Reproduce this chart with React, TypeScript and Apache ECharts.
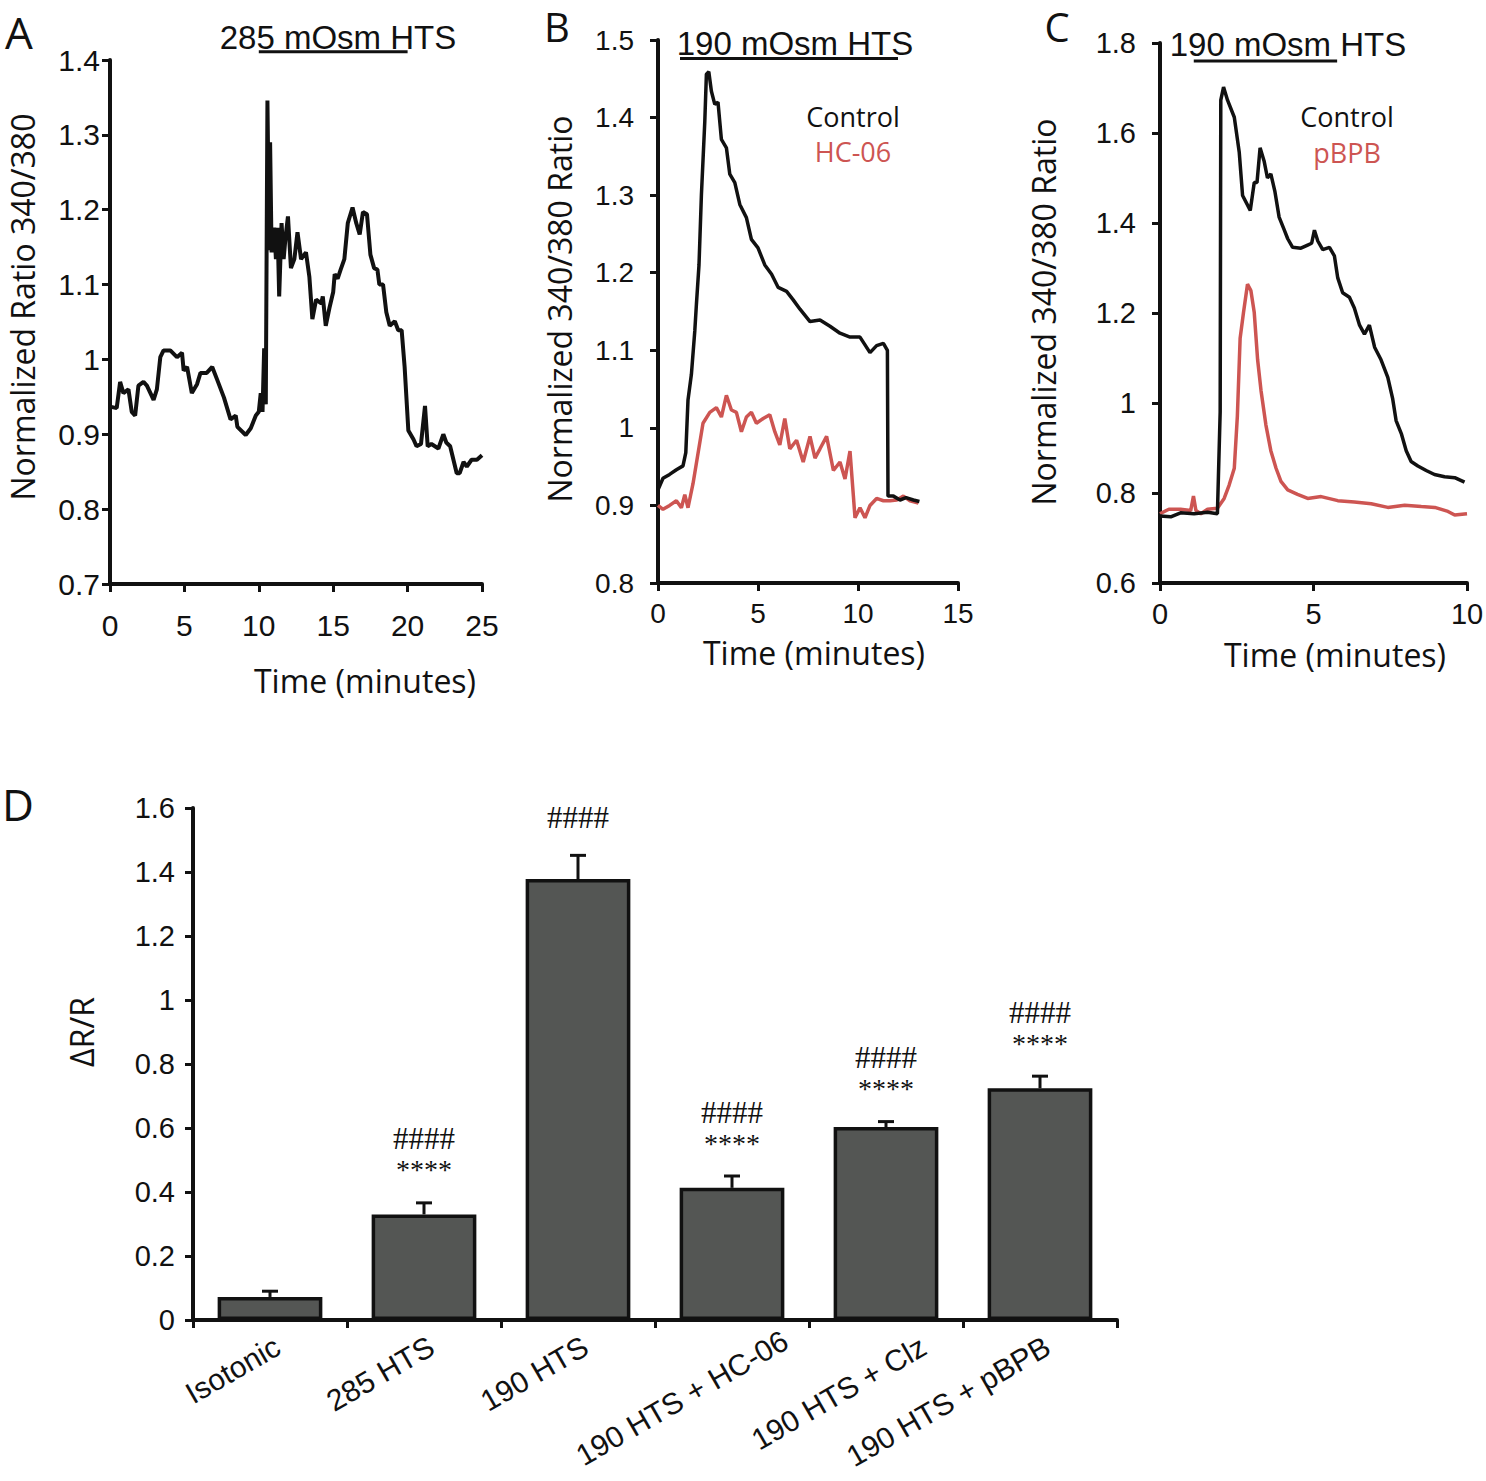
import React, { useEffect, useRef } from "react";
import * as echarts from "echarts";

// ---------- Panel A ----------
const timeA = [0, 0.45, 0.68, 0.9, 1.24, 1.46, 1.69, 1.91, 2.25, 2.48, 2.93, 3.15, 3.38, 3.6, 4.05, 4.5, 4.84, 4.95, 5.18, 5.5, 5.85, 6.08, 6.5, 6.87, 7.2, 7.66, 8.1, 8.45, 8.56, 9.12, 9.46, 9.8, 10.0, 10.13, 10.25, 10.36, 10.47, 10.58, 10.7, 10.76, 10.86, 11.04, 11.15, 11.26, 11.37, 11.53, 11.67, 11.8, 11.96, 12.16, 12.39, 12.6, 12.84, 13.17, 13.4, 13.6, 13.85, 14.2, 14.3, 14.5, 14.75, 15.0, 15.1, 15.3, 15.5, 15.75, 15.98, 16.3, 16.55, 16.78, 17.0, 17.27, 17.5, 17.75, 17.97, 18.1, 18.35, 18.57, 18.8, 19.14, 19.37, 19.6, 19.8, 20.05, 20.4, 20.6, 20.9, 21.17, 21.35, 21.6, 22.07, 22.4, 22.6, 22.86, 23.3, 23.5, 23.76, 23.98, 24.3, 24.66, 25.0];
const ratioA = [0.937, 0.935, 0.97, 0.955, 0.96, 0.93, 0.925, 0.965, 0.97, 0.965, 0.946, 0.96, 1.003, 1.012, 1.012, 1.003, 1.009, 0.985, 0.99, 0.955, 0.967, 0.982, 0.982, 0.99, 0.973, 0.949, 0.92, 0.925, 0.91, 0.899, 0.908, 0.925, 0.93, 0.955, 0.93, 1.015, 0.94, 1.346, 1.146, 1.29, 1.143, 1.176, 1.134, 1.176, 1.084, 1.182, 1.134, 1.164, 1.191, 1.122, 1.134, 1.17, 1.134, 1.143, 1.11, 1.054, 1.08, 1.075, 1.084, 1.045, 1.069, 1.09, 1.114, 1.108, 1.12, 1.134, 1.182, 1.203, 1.182, 1.167, 1.197, 1.194, 1.14, 1.122, 1.12, 1.1, 1.1, 1.063, 1.045, 1.051, 1.039, 1.039, 0.99, 0.905, 0.893, 0.884, 0.887, 0.938, 0.884, 0.887, 0.881, 0.9, 0.889, 0.884, 0.848, 0.848, 0.863, 0.857, 0.866, 0.866, 0.872];
const htsA = [10, 20];

// ---------- Panel B ----------
const timeBControl = [0, 0.25, 0.58, 0.92, 1.25, 1.39, 1.5, 1.67, 1.84, 1.92, 2.05, 2.17, 2.34, 2.42, 2.54, 2.67, 2.84, 3.0, 3.17, 3.42, 3.59, 3.84, 4.09, 4.42, 4.67, 5.0, 5.34, 5.68, 6.01, 6.43, 6.76, 7.1, 7.6, 8.1, 8.6, 9.1, 9.6, 10.1, 10.6, 10.93, 11.27, 11.47, 11.5, 11.77, 12.1, 12.4, 12.77, 13.07];
const ratioBControl = [0.92, 0.935, 0.94, 0.946, 0.951, 0.968, 1.036, 1.069, 1.125, 1.159, 1.21, 1.3, 1.395, 1.456, 1.459, 1.434, 1.417, 1.42, 1.372, 1.361, 1.327, 1.316, 1.288, 1.271, 1.243, 1.232, 1.21, 1.198, 1.181, 1.176, 1.165, 1.153, 1.137, 1.139, 1.131, 1.122, 1.117, 1.117, 1.097, 1.106, 1.109, 1.1, 0.912, 0.912, 0.907, 0.91, 0.907, 0.905];
const timeBHC = [0, 0.25, 0.58, 0.92, 1.17, 1.34, 1.5, 1.75, 2.0, 2.25, 2.59, 2.92, 3.17, 3.42, 3.67, 3.92, 4.17, 4.42, 4.67, 4.92, 5.26, 5.59, 5.84, 6.09, 6.34, 6.59, 6.93, 7.26, 7.6, 7.85, 8.1, 8.43, 8.77, 9.1, 9.35, 9.6, 9.77, 9.85, 10.1, 10.35, 10.6, 10.93, 11.27, 11.6, 11.94, 12.27, 12.6, 13.02];
const ratioBHC = [0.9, 0.895, 0.9, 0.906, 0.897, 0.914, 0.897, 0.928, 0.967, 1.006, 1.02, 1.026, 1.014, 1.042, 1.023, 1.02, 0.995, 1.014, 1.02, 1.006, 1.012, 1.017, 0.995, 0.978, 1.012, 0.973, 0.984, 0.956, 0.989, 0.961, 0.973, 0.989, 0.945, 0.956, 0.934, 0.97, 0.912, 0.884, 0.897, 0.884, 0.9, 0.909, 0.906, 0.906, 0.907, 0.912, 0.906, 0.903];
const htsB = [1.1, 12];

// ---------- Panel C ----------
const timeCControl = [0, 0.35, 0.67, 1.11, 1.55, 1.87, 1.96, 1.98, 2.07, 2.2, 2.42, 2.58, 2.69, 2.94, 3.07, 3.16, 3.26, 3.39, 3.5, 3.61, 3.74, 3.88, 4.05, 4.16, 4.32, 4.59, 4.81, 4.94, 5.03, 5.14, 5.3, 5.52, 5.68, 5.79, 5.95, 6.17, 6.33, 6.5, 6.66, 6.82, 6.99, 7.2, 7.42, 7.58, 7.69, 7.86, 8.02, 8.18, 8.4, 8.67, 8.94, 9.27, 9.6, 9.92];
const ratioCControl = [0.749, 0.747, 0.756, 0.754, 0.757, 0.754, 0.98, 1.673, 1.702, 1.673, 1.635, 1.558, 1.461, 1.428, 1.49, 1.49, 1.567, 1.538, 1.5, 1.509, 1.471, 1.413, 1.384, 1.365, 1.346, 1.344, 1.351, 1.355, 1.384, 1.36, 1.341, 1.346, 1.327, 1.278, 1.245, 1.235, 1.211, 1.173, 1.153, 1.173, 1.124, 1.096, 1.057, 1.009, 0.961, 0.932, 0.894, 0.87, 0.86, 0.85, 0.841, 0.836, 0.834, 0.824];
const timeCpBPB = [0, 0.29, 0.67, 1.0, 1.09, 1.17, 1.33, 1.55, 1.87, 2.09, 2.25, 2.42, 2.52, 2.61, 2.72, 2.85, 2.96, 3.07, 3.18, 3.29, 3.45, 3.61, 3.78, 3.94, 4.16, 4.48, 4.81, 5.25, 5.79, 6.33, 6.88, 7.42, 7.97, 8.51, 8.95, 9.38, 9.6, 10.0];
const ratioCpBPB = [0.754, 0.764, 0.764, 0.761, 0.793, 0.761, 0.754, 0.764, 0.766, 0.788, 0.817, 0.855, 0.971, 1.144, 1.201, 1.264, 1.25, 1.201, 1.096, 1.028, 0.951, 0.894, 0.855, 0.826, 0.807, 0.797, 0.788, 0.792, 0.783, 0.78, 0.776, 0.768, 0.773, 0.77, 0.768, 0.759, 0.751, 0.754];
const htsC = [1.1, 5.77];

// ---------- Panel D ----------
const categoriesD = ["Isotonic", "285 HTS", "190 HTS", "190 HTS + HC-06", "190 HTS + Clz", "190 HTS + pBPB"];
const meansD = [0.072, 0.33, 1.378, 0.413, 0.603, 0.724];
const errTopD = [0.09, 0.366, 1.452, 0.45, 0.62, 0.762];
const hashD = ["", "####", "####", "####", "####", "####"];
const starD = ["", "****", "", "****", "****", "****"];

// layout only: nudges of the rotated category labels (px)
const LABEL_NUDGE_X = [0, 0, 0, 46, 30, 0];
const LABEL_NUDGE_Y = [0, 0, 0, -6, 0, 0];

const BLACK = "#111111";
const RED = "#cd5552";
const SANS = '"Liberation Sans", Arial, sans-serif';
const TITLE = '"Open Sans", "Noto Sans", sans-serif';
const SERIF = '"Liberation Serif", "Times New Roman", serif';

const zip = (t: number[], v: number[]) => t.map((x, i) => [x, v[i]]);

function valueAxis(gridIndex: number, min: number, max: number, interval: number, fontSize: number, margin: number) {
  return {
    type: "value",
    gridIndex,
    min,
    max,
    interval,
    axisLine: { show: true, onZero: false, lineStyle: { color: BLACK, width: 4 } },
    axisTick: { show: true, inside: false, length: 8, lineStyle: { color: BLACK, width: 3 } },
    axisLabel: { color: BLACK, fontSize, fontFamily: SANS, margin },
    splitLine: { show: false },
  };
}

function txt(x: number, y: number, text: string, size: number, opts: any = {}) {
  return {
    type: "text",
    x,
    y,
    rotation: opts.rotation || 0,
    silent: true,
    z: 10,
    style: {
      text,
      fontSize: size,
      fontFamily: opts.family || TITLE,
      fill: opts.color || BLACK,
      align: "center",
      verticalAlign: "middle",
    },
  };
}

export default function App() {
  const ref = useRef<HTMLDivElement>(null);

  useEffect(() => {
    if (!ref.current) return;
    const chart = echarts.init(ref.current, null, { renderer: "svg" });

    const option: any = {
      animation: false,
      backgroundColor: "#ffffff",
      grid: [
        { left: 110, top: 60, width: 372, height: 524, outerBoundsMode: "none", containLabel: false },
        { left: 658, top: 40, width: 300, height: 543, outerBoundsMode: "none", containLabel: false },
        { left: 1160, top: 43, width: 307, height: 540, outerBoundsMode: "none", containLabel: false },
        { left: 193, top: 808, width: 924, height: 512, outerBoundsMode: "none", containLabel: false },
      ],
      xAxis: [
        valueAxis(0, 0, 25, 5, 30, 26),
        valueAxis(1, 0, 15, 5, 28, 16),
        valueAxis(2, 0, 10, 5, 29, 16),
        {
          type: "category",
          gridIndex: 3,
          data: categoriesD,
          axisLine: { show: true, lineStyle: { color: BLACK, width: 4 } },
          axisTick: { show: true, alignWithLabel: false, inside: false, length: 8, lineStyle: { color: BLACK, width: 3 } },
          axisLabel: { show: false },
          splitLine: { show: false },
        },
      ],
      yAxis: [
        valueAxis(0, 0.7, 1.4, 0.1, 30, 10),
        valueAxis(1, 0.8, 1.5, 0.1, 28, 24),
        valueAxis(2, 0.6, 1.8, 0.2, 29, 24),
        valueAxis(3, 0, 1.6, 0.2, 29, 18),
      ],
      series: [
        {
          type: "line", xAxisIndex: 0, yAxisIndex: 0, data: zip(timeA, ratioA),
          showSymbol: false, lineStyle: { color: BLACK, width: 4 }, itemStyle: { color: BLACK },
        },
        {
          type: "line", xAxisIndex: 0, yAxisIndex: 0, data: htsA.map((t) => [t, 1.411]), clip: false,
          showSymbol: false, lineStyle: { color: BLACK, width: 3 },
        },
        {
          type: "line", xAxisIndex: 1, yAxisIndex: 1, data: zip(timeBHC, ratioBHC),
          showSymbol: false, lineStyle: { color: RED, width: 3.5 }, itemStyle: { color: RED },
        },
        {
          type: "line", xAxisIndex: 1, yAxisIndex: 1, data: zip(timeBControl, ratioBControl),
          showSymbol: false, lineStyle: { color: BLACK, width: 3.5 }, itemStyle: { color: BLACK },
        },
        {
          type: "line", xAxisIndex: 1, yAxisIndex: 1, data: htsB.map((t) => [t, 1.476]), clip: false,
          showSymbol: false, lineStyle: { color: BLACK, width: 3 },
        },
        {
          type: "line", xAxisIndex: 2, yAxisIndex: 2, data: zip(timeCpBPB, ratioCpBPB),
          showSymbol: false, lineStyle: { color: RED, width: 3.5 }, itemStyle: { color: RED },
        },
        {
          type: "line", xAxisIndex: 2, yAxisIndex: 2, data: zip(timeCControl, ratioCControl),
          showSymbol: false, lineStyle: { color: BLACK, width: 3.5 }, itemStyle: { color: BLACK },
        },
        {
          type: "line", xAxisIndex: 2, yAxisIndex: 2, data: htsC.map((t) => [t, 1.76]), clip: false,
          showSymbol: false, lineStyle: { color: BLACK, width: 3 },
        },
        {
          type: "bar", xAxisIndex: 3, yAxisIndex: 3, data: meansD, barWidth: "68%",
          itemStyle: { color: "#545654", borderColor: BLACK, borderWidth: 3.5 },
          z: 2,
        },
        {
          type: "custom", xAxisIndex: 3, yAxisIndex: 3, z: 3, clip: false,
          data: categoriesD.map((c, i) => [i, meansD[i], errTopD[i]]),
          encode: { x: 0, y: [1, 2] },
          renderItem: (params: any, api: any) => {
            const i = params.dataIndex;
            const base = api.coord([api.value(0), api.value(1)]);
            const top = api.coord([api.value(0), api.value(2)]);
            const axisPt = api.coord([api.value(0), 0]);
            const cap = 8;
            const children: any[] = [
              { type: "line", shape: { x1: base[0], y1: base[1], x2: top[0], y2: top[1] }, style: { stroke: BLACK, lineWidth: 3 } },
              { type: "line", shape: { x1: top[0] - cap, y1: top[1], x2: top[0] + cap, y2: top[1] }, style: { stroke: BLACK, lineWidth: 3 } },
              {
                type: "text",
                x: axisPt[0] + LABEL_NUDGE_X[i],
                y: axisPt[1] + 11 + LABEL_NUDGE_Y[i],
                rotation: Math.PI / 6,
                style: {
                  text: categoriesD[i], fontSize: 30, fontFamily: SANS, fill: BLACK,
                  align: "right", verticalAlign: "top",
                },
              },
            ];
            const mk = (text: string, dy: number, size: number) => ({
              type: "text", x: top[0], y: top[1] - dy,
              style: { text, fontSize: size, fontFamily: SERIF, fill: BLACK, align: "center", verticalAlign: "middle" },
            });
            if (starD[i]) {
              children.push(mk(starD[i], 33, 28));
              if (hashD[i]) children.push(mk(hashD[i], 64, 31));
            } else if (hashD[i]) {
              children.push(mk(hashD[i], 38, 31));
            }
            return { type: "group", children };
          },
        },
      ],
      graphic: [
        txt(19, 32, "A", 44),
        txt(557, 26, "B", 40),
        txt(1057, 26, "C", 40),
        txt(18, 804, "D", 44),
        txt(338, 37, "285 mOsm HTS", 33, { family: SANS }),
        txt(795, 43, "190 mOsm HTS", 33, { family: SANS }),
        txt(1288, 44, "190 mOsm HTS", 33, { family: SANS }),
        txt(853, 116, "Control", 27),
        txt(853, 151, "HC-06", 27, { color: RED }),
        txt(1347, 116, "Control", 27),
        txt(1347, 152, "pBPB", 27, { color: RED }),
        txt(22, 307, "Normalized Ratio 340/380", 32, { rotation: Math.PI / 2 }),
        txt(559, 309, "Normalized 340/380 Ratio", 32, { rotation: Math.PI / 2 }),
        txt(1043, 312, "Normalized 340/380 Ratio", 32, { rotation: Math.PI / 2 }),
        txt(365, 680, "Time (minutes)", 32),
        txt(814, 652, "Time (minutes)", 32),
        txt(1335, 654, "Time (minutes)", 32),
        txt(81, 1032, "ΔR/R", 32, { rotation: Math.PI / 2 }),
      ],
    };

    chart.setOption(option);
    return () => chart.dispose();
  }, []);

  return (
    <div
      ref={ref}
      style={{ position: "absolute", left: 0, top: 0, width: 1486, height: 1481, background: "#fff" }}
    />
  );
}
